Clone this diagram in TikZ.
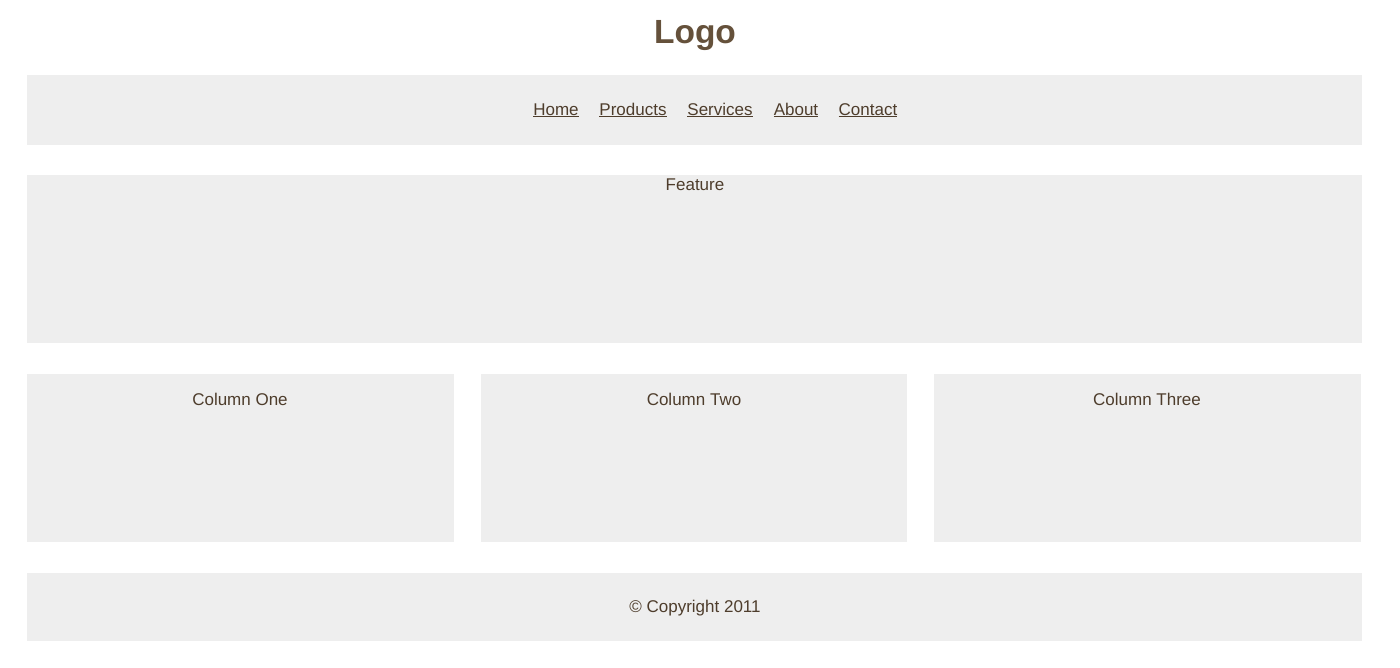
\documentclass[tikz,border=0pt]{standalone}
\usepackage{fontspec}
\setmainfont{Liberation Sans}
\definecolor{boxgray}{HTML}{EEEEEE}
\definecolor{logobrown}{HTML}{65513B}
\definecolor{textbrown}{HTML}{4E3D2C}
\begin{document}
\begin{tikzpicture}[x=1pt,y=-1pt,
  panel/.style={fill=boxgray,draw=none},
  txt/.style={text=textbrown,font=\fontsize{17}{19}\selectfont,inner sep=0pt,anchor=base},
  navlink/.style={txt}]
\useasboundingbox[fill=white] (0,0) rectangle (1400,667);
% panels
\path[panel] (27,75) rectangle (1362,145);
\path[panel] (27,175) rectangle (1362,343);
\path[panel] (27,374) rectangle (454,542);
\path[panel] (481,374) rectangle (907,542);
\path[panel] (934,374) rectangle (1361,542);
\path[panel] (27,573) rectangle (1362,641);
% logo
\node[text=logobrown,font=\fontsize{33.5}{36}\selectfont\bfseries,inner sep=0pt,anchor=base] (logo) at (695,43) {Logo};
% navigation
\node[navlink] (home) at (556,115) {\underline{Home}};
\node[navlink] (products) at (633,115) {\underline{Products}};
\node[navlink] (services) at (720,115) {\underline{Services}};
\node[navlink] (about) at (796,115) {\underline{About}};
\node[navlink] (contact) at (868,115) {\underline{Contact}};
% contents
\node[txt] (feature) at (695,190) {Feature};
\node[txt] (col1) at (240,405) {Column One};
\node[txt] (col2) at (694,405) {Column Two};
\node[txt] (col3) at (1147,405) {Column Three};
\node[txt] (copy) at (695,612) {© Copyright 2011};
\end{tikzpicture}
\end{document}
